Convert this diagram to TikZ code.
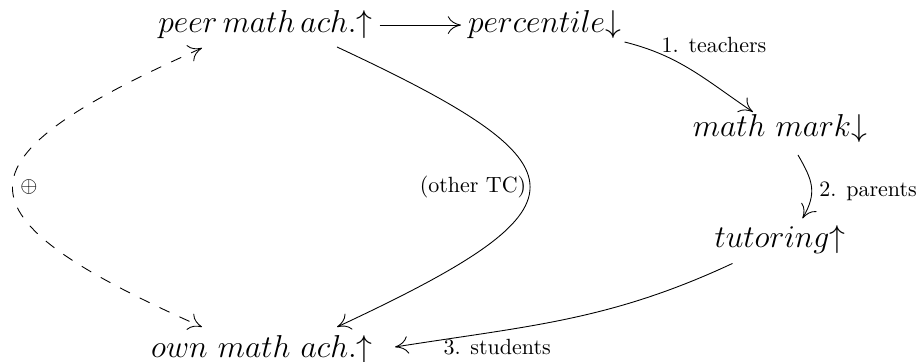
\documentclass[tikz,border=0pt]{standalone}
\usepackage{amsmath}
\usepackage{amssymb}
\usetikzlibrary{positioning,arrows.meta}

\begin{document}
\begin{tikzpicture}[>={Computer Modern Rightarrow[length=6pt,width=8pt]},x=0.4545pt,y=0.4545pt,node distance=3mm]
  \tikzstyle{var}=[font=\Large,inner sep=3pt]
  \tikzstyle{lbl}=[font=\normalsize]
  \useasboundingbox (0,0) rectangle (920,-362);
  \node[var,anchor=base] (peer) at (265.5,-33) {$peer\,math\,ach.{\uparrow}$};
  \node[var,right=37pt of peer] (pct) {$percentile{\downarrow}$};
  \node[var,anchor=base] (mark) at (780,-137) {$math\ mark{\downarrow}$};
  \node[var,below=31pt of mark] (tut) {$tutoring{\uparrow}$};
  \node[var,anchor=base] (own) at (262,-358) {$own\ math\ ach.{\uparrow}$};
  \draw[->] (peer)--(pct);
  \draw[->] ([shift={(80,-9)}]pct.base) to[out=-14,in=146]
    node[lbl,pos=0.3,anchor=south west,inner sep=2pt,xshift=-5pt] {1. teachers} ([shift={(-27,25)}]mark.base);
  \draw[->] ([shift={(18,-18)}]mark.base) to[out=-60,in=60,looseness=1.2]
    node[lbl,pos=0.58,right] {2. parents} ([shift={(22.5,29)}]tut.base);
  \draw[->] ([shift={(-47.5,-16)}]tut.base) to[out=205,in=9]
    node[lbl,pos=0.72,below] {3. students} ([shift={(133,11)}]own.base);
  \draw[->] ([shift={(71.5,-14)}]peer.base) to[out=-25,in=25,looseness=2.6]
    node[lbl,left,inner sep=1.5pt] {(other TC)} ([shift={(75,31)}]own.base);
  \draw[<->,dash pattern=on 5pt off 5pt] ([shift={(-63.5,-15)}]peer.base) to[out=204,in=156,looseness=2.54]
    node[lbl,right] {$\oplus$} ([shift={(-60,31)}]own.base);
\end{tikzpicture}
\end{document}
